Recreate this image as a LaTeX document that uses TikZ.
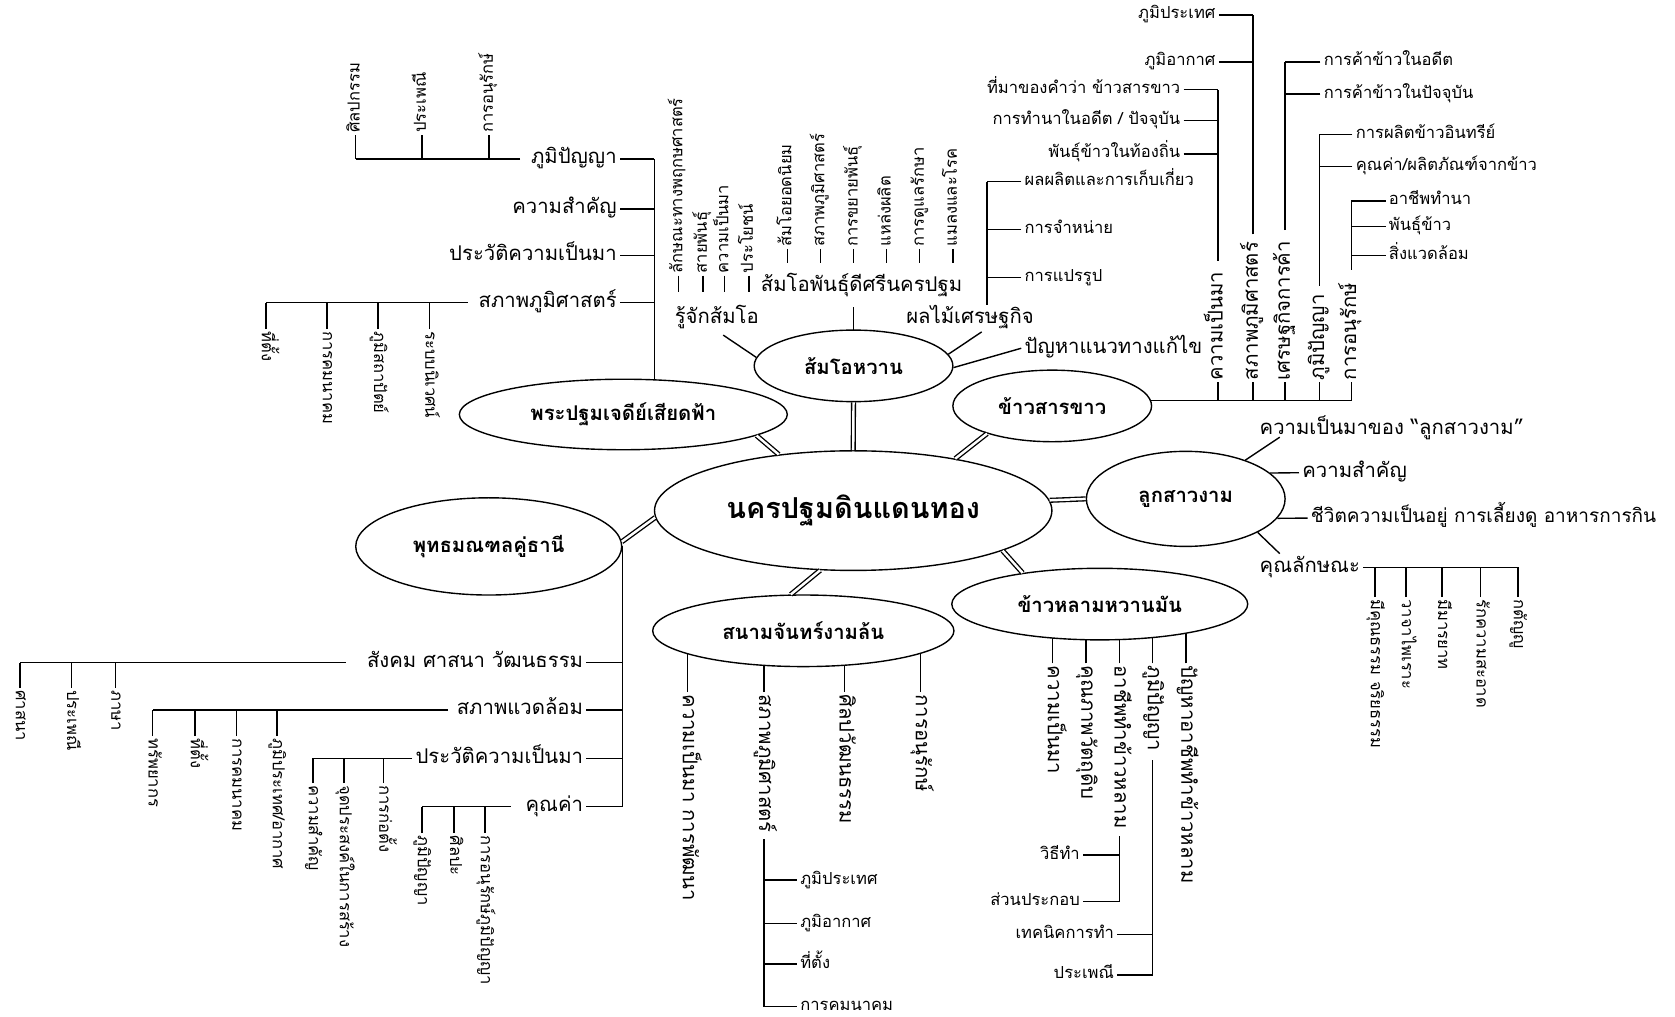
\documentclass[tikz,border=0pt]{standalone}
\usepackage{fontspec}
\newfontfamily\thaifont[Script=Thai]{Loma}
\usetikzlibrary{shapes.geometric, calc}
\pgfdeclarelayer{background}
\pgfsetlayers{background,main}

\tikzset{
    hub/.style={ellipse, draw, fill=white, line width=1.3pt, inner sep=0pt,
        font=\thaifont\bfseries\fontsize{27}{30}\selectfont},
    topic/.style={ellipse, draw, fill=white, line width=1.3pt, inner sep=0pt,
        font=\thaifont\bfseries\fontsize{19}{22}\selectfont},
    bigtxt/.style={font=\thaifont\fontsize{19}{22}\selectfont, text height=14pt, text depth=5pt},
    smalltxt/.style={font=\thaifont\fontsize{15.5}{18}\selectfont, text height=11.5pt, text depth=4pt},
    lbl/.style={bigtxt, inner sep=3pt},
    slbl/.style={smalltxt, inner sep=3pt},
    vup/.style={smalltxt, inner sep=2pt, rotate=90, anchor=west},
    vdown/.style={smalltxt, inner sep=2pt, rotate=-90, anchor=west},
    br/.style={line width=1.3pt},
    dbl/.style={double, double distance=2.3pt, line width=1.25pt},
}

\begin{document}
\begin{tikzpicture}[x=1pt, y=-1pt]

    \useasboundingbox (0,0) rectangle (1568,952);

    \node[hub, minimum width=372pt, minimum height=112pt] (c) at (798.7,478) {นครปฐมดินแดนทอง};

    \node[topic, minimum width=186pt, minimum height=67pt] (som) at (799,342.5) {ส้มโอหวาน};
    \node[topic, minimum width=186pt, minimum height=67pt] (khs) at (985,380) {ข้าวสารขาว};
    \node[topic, minimum width=307pt, minimum height=66pt] (phra) at (583.5,388) {พระปฐมเจดีย์เสียดฟ้า};
    \node[topic, minimum width=249pt, minimum height=91pt] (put) at (457.5,511.5) {พุทธมณฑลคู่ธานี};
    \node[topic, minimum width=186pt, minimum height=89pt] (luk) at (1110,467) {ลูกสาวงาม};
    \node[topic, minimum width=277pt, minimum height=67pt] (klam) at (1029.5,565.5) {ข้าวหลามหวานมัน};
    \node[topic, minimum width=282pt, minimum height=67pt] (snam) at (752,590.5) {สนามจันทร์งามล้น};

    \draw[dbl] (c.90) -- (som.-90);
    \draw[dbl] (c.27) -- (khs.-157);
    \draw[dbl] (c.143) -- (phra.-9);
    \draw[dbl] (c.-178) -- (put.2);
    \draw[dbl] (c.3) -- (luk.180);
    \draw[dbl] (c.-119) -- (snam.109);
    \draw[dbl] (c.-15.5) -- (klam.158);

    \coordinate (pa) at (612.5,148.8);
    \foreach \y/\txt [count=\i] in {148.8/ภูมิปัญญา, 195.7/ความสำคัญ, 239.3/ประวัติความเป็นมา, 283.3/สภาพภูมิศาสตร์} {
        \node[lbl, anchor=east] (a\i) at (580.5,\y) {\txt};
        \draw[br] (a\i.east) -- (a\i.east -| pa);
    }
    \begin{pgfonlayer}{background}
        \draw[br] (pa) -- (pa |- phra.center);
    \end{pgfonlayer}

    \foreach \x/\txt [count=\i] in {333/ศิลปกรรม, 395/ประเพณี, 457.6/การอนุรักษ์} {
        \node[vup] (a1c\i) at (\x,126.4) {\txt};
        \draw[br] (a1c\i.west) -- (a1c\i.west |- a1.west);
    }
    \draw[br] ([xshift=-7pt]a1.west) -- (a1.west -| a1c1.west);

    \foreach \x/\txt [count=\i] in {249/ที่ตั้ง, 306/การคมนาคม, 354/ภูมิสถาปัตย์, 402/ระบบนิเวศน์} {
        \node[vdown] (a4c\i) at (\x,308) {\txt};
        \draw[br] (a4c\i.west) -- (a4c\i.west |- a4.west);
    }
    \draw[br] ([xshift=-7pt]a4.west) -- (a4.west -| a4c1.west);

    \node[lbl] (ruj) at (671,298) {รู้จักส้มโอ};
    \node[lbl] (pan) at (806.5,268) {ส้มโอพันธุ์ดีศรีนครปฐม};
    \node[lbl] (phm) at (908,298) {ผลไม้เศรษฐกิจ};
    \node[lbl, anchor=west] (pnh) at (956,326) {ปัญหาแนวทางแก้ไข};
    \draw[br] (som.175) -- ([xshift=6pt,yshift=-3pt]ruj.south);
    \draw[br] (som.7) -- ([xshift=11pt]phm.south);
    \draw[br] (som.-1) -- (pnh.west);
    \begin{pgfonlayer}{background}
        \draw[br, shorten >=7pt] (som.center) -- (som.center |- pan.south);
    \end{pgfonlayer}

    \foreach \x/\txt [count=\i] in {635/ลักษณะทางพฤกษศาสตร์, 658/สายพันธุ์, 678/ความเป็นมา, 701/ประโยชน์} {
        \node[vup] (rc\i) at (\x,258) {\txt};
        \draw[br] (rc\i.west) -- ++(0,15);
    }

    \foreach \x/\txt [count=\i] in {737/ส้มโอยอดนิยม, 768/สภาพภูมิศาสตร์, 799/การขยายพันธุ์, 830/แหล่งผลิต, 861/การดูแลรักษา, 892/แมลงและโรค} {
        \node[vup] (pc\i) at (\x,233) {\txt};
        \draw[br] (pc\i.west) -- ++(0,13);
    }

    \coordinate (dd) at ([xshift=16pt]phm.north);
    \foreach \y/\txt [count=\i] in {170/ผลผลิตและการเก็บเกี่ยว, 215/การจำหน่าย, 260/การแปรรูป} {
        \node[slbl, anchor=west] (pf\i) at (956,\y) {\txt};
        \draw[br] (pf\i.west) -- (pf\i.west -| dd);
    }
    \draw[br] (dd) -- (dd |- pf1.west);

    \foreach \x/\txt [count=\i] in {1140/ความเป็นมา, 1173/สภาพภูมิศาสตร์, 1203/เศรษฐกิจการค้า, 1235/ภูมิปัญญา, 1265/การอนุรักษ์} {
        \node[vup, bigtxt] (ks\i) at (\x,358) {\txt};
        \draw[br] (ks\i.west) -- (ks\i.west |- khs.3);
    }
    \draw[br] (khs.3) -- (khs.3 -| ks5.west);

    \foreach \y/\txt [count=\i] in {84/ที่มาของคำว่า ข้าวสารขาว, 113/{การทำนาในอดีต / ปัจจุบัน}, 144/พันธุ์ข้าวในท้องถิ่น} {
        \node[slbl, anchor=east] (ks1c\i) at (1108,\y) {\txt};
        \draw[br] (ks1c\i.east) -- (ks1c\i.east -| ks1.east);
    }
    \draw[br] ([yshift=8pt]ks1.east) -- (ks1.east |- ks1c1.east);

    \foreach \y/\txt [count=\i] in {14/ภูมิประเทศ, 58/ภูมิอากาศ} {
        \node[slbl, anchor=east] (ks2c\i) at (1141,\y) {\txt};
        \draw[br] (ks2c\i.east) -- (ks2c\i.east -| ks2.east);
    }
    \draw[br] ([yshift=5pt]ks2.east) -- (ks2.east |- ks2c1.east);

    \foreach \y/\txt [count=\i] in {58/การค้าข้าวในอดีต, 88/การค้าข้าวในปัจจุบัน} {
        \node[slbl, anchor=west] (ks3c\i) at (1236,\y) {\txt};
        \draw[br] (ks3c\i.west) -- (ks3c\i.west -| ks3.east);
    }
    \draw[br] ([yshift=8pt]ks3.east) -- (ks3.east |- ks3c1.west);

    \foreach \y/\txt [count=\i] in {126/การผลิตข้าวอินทรีย์, 156/{คุณค่า/ผลิตภัณฑ์จากข้าว}} {
        \node[slbl, anchor=west] (ks4c\i) at (1266,\y) {\txt};
        \draw[br] (ks4c\i.west) -- (ks4c\i.west -| ks4.east);
    }
    \draw[br] ([yshift=6pt]ks4.east) -- (ks4.east |- ks4c1.west);

    \foreach \y/\txt [count=\i] in {188/อาชีพทำนา, 212/พันธุ์ข้าว, 239/สิ่งแวดล้อม} {
        \node[slbl, anchor=west] (ks5c\i) at (1297,\y) {\txt};
        \draw[br] (ks5c\i.west) -- (ks5c\i.west -| ks5.east);
    }
    \draw[br] ([yshift=10pt]ks5.east) -- (ks5.east |- ks5c1.west);

    \node[lbl, anchor=west] (lk1) at (1176,402.6) {ความเป็นมาของ “ลูกสาวงาม”};
    \node[lbl, anchor=west] (lk2) at (1216,442.5) {ความสำคัญ};
    \node[lbl, anchor=west, font=\thaifont\fontsize{17.8}{21}\selectfont] (lk3) at (1224,485) {ชีวิตความเป็นอยู่ การเลี้ยงดู อาหารการกิน};
    \node[lbl, anchor=west] (lk4) at (1176,531) {คุณลักษณะ};
    \draw[br] (luk.33) -- ([xshift=22pt,yshift=6pt]lk1.south west);
    \draw[br] (luk.17) -- (lk2.west);
    \draw[br] (luk.-12) -- (lk3.west);
    \draw[br] (luk.-25) -- ([xshift=22pt]lk4.north west);

    \foreach \x/\txt [count=\i] in {1287/มีคุณธรรม จริยธรรม, 1316/วาจาไพเราะ, 1350/มีมารยาท, 1386/รักความสะอาด, 1421/กตัญญู} {
        \node[vdown] (lc\i) at (\x,559) {\txt};
        \draw[br] (lc\i.west) -- (lc\i.west |- lk4.east);
    }
    \draw[br] (lk4.east) -- (lk4.east -| lc5.west);

    \foreach \x/\txt [count=\i] in {985.5/ความเป็นมา, 1016.7/คุณภาพวัตถุดิบ, 1047.9/อาชีพทำข้าวหลาม, 1079/ภูมิปัญญา, 1110.3/ปัญหาอาชีพทำข้าวหลาม} {
        \node[vdown, bigtxt] (kl\i) at (\x,621) {\txt};
        \begin{pgfonlayer}{background}
            \draw[br] (kl\i.west) -- (kl\i.west |- klam.center);
        \end{pgfonlayer}
    }

    \foreach \y/\txt [count=\i] in {800.4/วิธีทำ, 844/ส่วนประกอบ} {
        \node[slbl, anchor=east] (kl3c\i) at (1014,\y) {\txt};
        \draw[br] (kl3c\i.east) -- (kl3c\i.east -| kl3.east);
    }
    \draw[br] ([yshift=-5pt]kl3.east) -- (kl3.east |- kl3c2.east);

    \foreach \y/\txt [count=\i] in {875/เทคนิคการทำ, 912.7/ประเพณี} {
        \node[slbl, anchor=east] (kl4c\i) at (1046,\y) {\txt};
        \draw[br] (kl4c\i.east) -- (kl4c\i.east -| kl4.east);
    }
    \draw[br] ([yshift=-6pt]kl4.east) -- (kl4.east |- kl4c2.east);

    \foreach \x/\txt [count=\i] in {643.7/ความเป็นมา การพัฒนา, 715.2/สภาพภูมิศาสตร์, 790.4/ศิลปวัฒนธรรม, 861.9/การอนุรักษ์} {
        \node[vdown, bigtxt] (sj\i) at (\x,648) {\txt};
        \begin{pgfonlayer}{background}
            \draw[br] (sj\i.west) -- (sj\i.west |- snam.center);
        \end{pgfonlayer}
    }

    \foreach \y/\txt [count=\i] in {823.8/ภูมิประเทศ, 864.4/ภูมิอากาศ, 902.5/ที่ตั้ง, 942.4/การคมนาคม} {
        \node[slbl, anchor=west] (sj2c\i) at (746,\y) {\txt};
        \draw[br] (sj2c\i.west) -- (sj2c\i.west -| sj2.east);
    }
    \draw[br] ([yshift=-4pt]sj2.east) -- (sj2.east |- sj2c4.west);

    \foreach \y/\txt [count=\i] in {620.4/สังคม ศาสนา วัฒนธรรม, 664.7/สภาพแวดล้อม, 710/ประวัติความเป็นมา, 755.2/คุณค่า} {
        \node[lbl, anchor=east] (pt\i) at (549,\y) {\txt};
        \draw[br] (pt\i.east) -- (pt\i.east -| put.east);
    }
    \draw[br] (put.east) -- (put.east |- pt4.east);

    \foreach \x/\txt [count=\i] in {18.6/ศาสนา, 66.7/ประเพณี, 108/ภาษา} {
        \node[vdown] (pt1c\i) at (\x,644) {\txt};
        \draw[br] (pt1c\i.west) -- (pt1c\i.west |- pt1.west);
    }
    \draw[br] ([xshift=-16.5pt]pt1.west) -- (pt1.west -| pt1c1.west);

    \foreach \x/\txt [count=\i] in {142.8/ทรัพยากร, 182.4/ที่ตั้ง, 221.2/การคมนาคม, 259.3/{ภูมิประเทศ/อากาศ}} {
        \node[vdown] (pt2c\i) at (\x,689) {\txt};
        \draw[br] (pt2c\i.west) -- (pt2c\i.west |- pt2.west);
    }
    \draw[br] ([xshift=-5pt]pt2.west) -- (pt2.west -| pt2c1.west);

    \foreach \x/\txt [count=\i] in {293/ความสำคัญ, 322/จุดประสงค์ในการสร้าง, 359/การก่อตั้ง} {
        \node[vdown] (pt3c\i) at (\x,733) {\txt};
        \draw[br] (pt3c\i.west) -- (pt3c\i.west |- pt3.west);
    }
    \draw[br] (pt3.west) -- (pt3.west -| pt3c1.west);

    \foreach \x/\txt [count=\i] in {395/ภูมิปัญญา, 425/ศิลปะ, 454/การอนุรักษ์ภูมิปัญญา} {
        \node[vdown] (pt4c\i) at (\x,780) {\txt};
        \draw[br] (pt4c\i.west) -- (pt4c\i.west |- pt4.west);
    }
    \draw[br] ([xshift=-11pt]pt4.west) -- (pt4.west -| pt4c1.west);

\end{tikzpicture}
\end{document}
